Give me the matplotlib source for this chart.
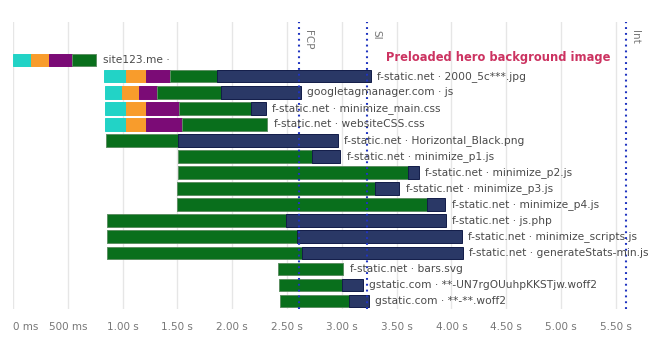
import numpy as np
import matplotlib
matplotlib.use("Agg")
import matplotlib.pyplot as plt

# ---- data -------------------------------------------------------------
labels = [
    "site123.me ·",
    "f-static.net · 2000_5c***.jpg",
    "googletagmanager.com · js",
    "f-static.net · minimize_main.css",
    "f-static.net · websiteCSS.css",
    "f-static.net · Horizontal_Black.png",
    "f-static.net · minimize_p1.js",
    "f-static.net · minimize_p2.js",
    "f-static.net · minimize_p3.js",
    "f-static.net · minimize_p4.js",
    "f-static.net · js.php",
    "f-static.net · minimize_scripts.js",
    "f-static.net · generateStats-min.js",
    "f-static.net · bars.svg",
    "gstatic.com · **-UN7rgOUuhpKKSTjw.woff2",
    "gstatic.com · **-**.woff2",
]
# request start (s)
start = [0.00, 0.83, 0.84, 0.84, 0.84, 0.85, 1.51, 1.51, 1.50, 1.50,
         0.855, 0.855, 0.855, 2.415, 2.43, 2.436]
# phase durations (s)
dns      = [0.16, 0.20, 0.155, 0.195, 0.192, 0, 0, 0, 0, 0, 0, 0, 0, 0, 0, 0]
connect  = [0.17, 0.185, 0.155, 0.179, 0.179, 0, 0, 0, 0, 0, 0, 0, 0, 0, 0, 0]
ssl      = [0.21, 0.22, 0.168, 0.301, 0.332, 0, 0, 0, 0, 0, 0, 0, 0, 0, 0, 0]
wait     = [0.22, 0.425, 0.584, 0.661, 0.779, 0.652, 1.217, 2.093, 1.806, 2.274,
            1.636, 1.733, 1.782, 0.599, 0.569, 0.63]
download = [0, 1.404, 0.724, 0.133, 0, 1.465, 0.259, 0.103, 0.219, 0.171,
            1.46, 1.506, 1.466, 0, 0.191, 0.182]

marker_names = ["FCP", "SI", "Int"]
marker_times = [2.61, 3.23, 5.59]

tick_values = [0, 0.5, 1, 1.5, 2, 2.5, 3, 3.5, 4, 4.5, 5, 5.5]
tick_labels = ["0 ms", "500 ms", "1.00 s", "1.50 s", "2.00 s", "2.50 s",
               "3.00 s", "3.50 s", "4.00 s", "4.50 s", "5.00 s", "5.50 s"]

annotation_text = "Preloaded hero background image"

# ---- styling ----------------------------------------------------------
phase_colors = ["#22d3c6", "#f89c2c", "#7b0b76", "#096f1c", "#2a3866"]
phase_edges = ["#22d3c6", "#f89c2c", "#7b0b76", "#5d8f63", "#111c48"]
text_color = "#4a4a4a"
tick_color = "#777777"

plt.rcParams["font.family"] = ["DejaVu Sans"]

fig = plt.figure(figsize=(6.57, 3.40), dpi=100)
W, H = 657, 340
left_px, right_px, top_px, bottom_px = 13, 657, 22, 309
ax = fig.add_axes([left_px / W, 1 - bottom_px / H,
                   (right_px - left_px) / W, (bottom_px - top_px) / H])

n = len(labels)
y = np.arange(n)
phases = [dns, connect, ssl, wait, download]
bar_h = 0.78

for i in range(n):
    x0 = start[i]
    for p, durs in enumerate(phases):
        d = durs[i]
        if d > 0:
            ax.barh(y[i], d, left=x0, height=bar_h, color=phase_colors[p],
                    edgecolor=phase_edges[p], linewidth=0.7, zorder=3)
            x0 += d
    ax.annotate(labels[i], xy=(x0, y[i]), xytext=(4.5, 0),
                textcoords="offset points", va="center", ha="left",
                fontsize=7.65, color=text_color, zorder=5)

# marker lines
for name, t in zip(marker_names, marker_times):
    ax.axvline(t, color="#1f33c0", linewidth=1.5, dashes=(0.9, 1.9), zorder=4)
    ax.annotate(name, xy=(t, 1), xycoords=("data", "axes fraction"),
                xytext=(3, -6), textcoords="offset points",
                rotation=270, ha="left", va="top", fontsize=7.5,
                color="#777777", zorder=5)

ax.text(3.40, -0.15, annotation_text, fontsize=8.3, fontweight="bold",
        color="#cc3361", va="center", ha="left", zorder=5)

ax.set_xlim(0, (right_px - left_px) / 109.6)
ax.set_ylim(n - 0.5, -2.375)
ax.set_xticks(tick_values)
ax.set_xticklabels(tick_labels)
for lbl in ax.get_xticklabels()[:1]:
    lbl.set_horizontalalignment("left")
ax.tick_params(axis="x", length=0, pad=9, labelsize=7.5, labelcolor=tick_color)
ax.set_yticks([])
ax.grid(axis="x", color="#e6e6e6", linewidth=1, zorder=0)
ax.set_axisbelow(True)
for s in ax.spines.values():
    s.set_visible(False)

fig.savefig("out.png", dpi=100)
